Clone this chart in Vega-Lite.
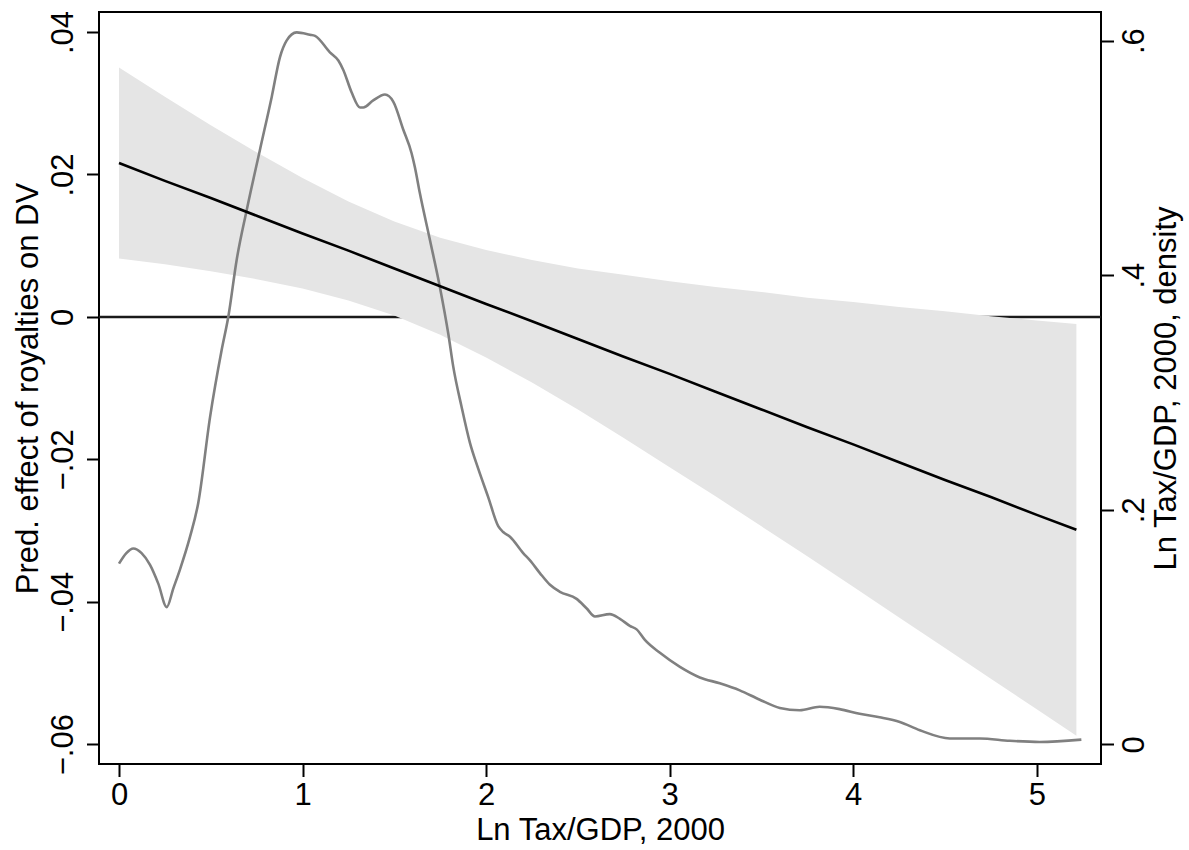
{
  "$schema": "https://vega.github.io/schema/vega-lite/v6.json",
  "width": 1002,
  "height": 752,
  "autosize": "none",
  "padding": {"left": 99, "top": 12, "right": 88, "bottom": 86},
  "background": "white",
  "config": {
    "font": "Liberation Sans",
    "view": {"stroke": "#000000", "strokeWidth": 2},
    "axis": {
      "domain": false, "grid": false,
      "tickColor": "#000000", "tickWidth": 2, "tickSize": 12.5,
      "labelColor": "#000000", "titleColor": "#000000",
      "labelFontSize": 31, "titleFontSize": 31, "titleFontWeight": "normal",
      "labelFont": "Liberation Sans", "titleFont": "Liberation Sans"
    }
  },
  "datasets": {
    "band": [
      {"x": 0, "est": 0.0216, "lo": 0.0082, "hi": 0.0350},
      {"x": 0.25, "est": 0.0191, "lo": 0.0074, "hi": 0.0309},
      {"x": 0.5, "est": 0.0167, "lo": 0.0064, "hi": 0.0269},
      {"x": 0.75, "est": 0.0142, "lo": 0.0053, "hi": 0.0231},
      {"x": 1.0, "est": 0.0117, "lo": 0.0040, "hi": 0.0195},
      {"x": 1.25, "est": 0.0093, "lo": 0.0023, "hi": 0.0162},
      {"x": 1.5, "est": 0.0068, "lo": 0.0002, "hi": 0.0134},
      {"x": 1.75, "est": 0.0043, "lo": -0.0025, "hi": 0.0111},
      {"x": 2.0, "est": 0.0018, "lo": -0.0057, "hi": 0.0094},
      {"x": 2.25, "est": -0.0006, "lo": -0.0092, "hi": 0.0080},
      {"x": 2.5, "est": -0.0031, "lo": -0.0130, "hi": 0.0068},
      {"x": 2.75, "est": -0.0056, "lo": -0.0170, "hi": 0.0059},
      {"x": 3.0, "est": -0.0080, "lo": -0.0211, "hi": 0.0050},
      {"x": 3.25, "est": -0.0105, "lo": -0.0252, "hi": 0.0042},
      {"x": 3.5, "est": -0.0130, "lo": -0.0294, "hi": 0.0035},
      {"x": 3.75, "est": -0.0155, "lo": -0.0336, "hi": 0.0027},
      {"x": 4.0, "est": -0.0179, "lo": -0.0379, "hi": 0.0021},
      {"x": 4.25, "est": -0.0204, "lo": -0.0422, "hi": 0.0014},
      {"x": 4.5, "est": -0.0229, "lo": -0.0465, "hi": 0.0008},
      {"x": 4.75, "est": -0.0253, "lo": -0.0508, "hi": 0.0001},
      {"x": 5.0, "est": -0.0278, "lo": -0.0551, "hi": -0.0005},
      {"x": 5.216, "est": -0.0299, "lo": -0.0588, "hi": -0.0010}
    ],
    "density": [
      {"x": 0, "d": 0.154}, {"x": 0.04, "d": 0.163}, {"x": 0.078, "d": 0.167}, {"x": 0.123, "d": 0.163},
      {"x": 0.169, "d": 0.153}, {"x": 0.214, "d": 0.137}, {"x": 0.26, "d": 0.117}, {"x": 0.296, "d": 0.133},
      {"x": 0.332, "d": 0.149}, {"x": 0.387, "d": 0.177}, {"x": 0.432, "d": 0.206}, {"x": 0.496, "d": 0.279},
      {"x": 0.559, "d": 0.336}, {"x": 0.596, "d": 0.365}, {"x": 0.641, "d": 0.413}, {"x": 0.695, "d": 0.455},
      {"x": 0.768, "d": 0.507}, {"x": 0.832, "d": 0.552}, {"x": 0.877, "d": 0.586}, {"x": 0.913, "d": 0.600},
      {"x": 0.968, "d": 0.607}, {"x": 1.04, "d": 0.605}, {"x": 1.068, "d": 0.604}, {"x": 1.149, "d": 0.590},
      {"x": 1.195, "d": 0.583}, {"x": 1.222, "d": 0.575}, {"x": 1.267, "d": 0.556}, {"x": 1.313, "d": 0.543},
      {"x": 1.331, "d": 0.543}, {"x": 1.385, "d": 0.549}, {"x": 1.449, "d": 0.554}, {"x": 1.494, "d": 0.548},
      {"x": 1.549, "d": 0.524}, {"x": 1.594, "d": 0.504}, {"x": 1.612, "d": 0.492}, {"x": 1.639, "d": 0.470},
      {"x": 1.694, "d": 0.430}, {"x": 1.748, "d": 0.390}, {"x": 1.794, "d": 0.350}, {"x": 1.821, "d": 0.322},
      {"x": 1.866, "d": 0.288}, {"x": 1.912, "d": 0.257}, {"x": 1.957, "d": 0.235}, {"x": 2.011, "d": 0.211},
      {"x": 2.066, "d": 0.186}, {"x": 2.093, "d": 0.181}, {"x": 2.13, "d": 0.177}, {"x": 2.202, "d": 0.163},
      {"x": 2.238, "d": 0.157}, {"x": 2.293, "d": 0.146}, {"x": 2.348, "d": 0.136}, {"x": 2.402, "d": 0.130},
      {"x": 2.493, "d": 0.124}, {"x": 2.547, "d": 0.116}, {"x": 2.593, "d": 0.109}, {"x": 2.674, "d": 0.111},
      {"x": 2.729, "d": 0.107}, {"x": 2.783, "d": 0.101}, {"x": 2.82, "d": 0.098}, {"x": 2.865, "d": 0.089},
      {"x": 2.947, "d": 0.078}, {"x": 3.056, "d": 0.066}, {"x": 3.164, "d": 0.057}, {"x": 3.273, "d": 0.052},
      {"x": 3.382, "d": 0.046}, {"x": 3.491, "d": 0.038}, {"x": 3.6, "d": 0.031}, {"x": 3.709, "d": 0.029},
      {"x": 3.817, "d": 0.032}, {"x": 3.926, "d": 0.030}, {"x": 4.035, "d": 0.026}, {"x": 4.144, "d": 0.023},
      {"x": 4.254, "d": 0.019}, {"x": 4.363, "d": 0.012}, {"x": 4.526, "d": 0.005}, {"x": 4.69, "d": 0.005},
      {"x": 4.853, "d": 0.003}, {"x": 5.016, "d": 0.002}, {"x": 5.243, "d": 0.004}
    ]
  },
  "layer": [
    {
      "data": {"values": [{"ref": 0}]},
      "mark": {"type": "rule", "color": "#1a1a1a", "strokeWidth": 2.5},
      "encoding": {
        "y": {
          "field": "ref", "type": "quantitative",
          "scale": {"domain": [-0.06278, 0.04281], "nice": false, "zero": false},
          "axis": {
            "orient": "left",
            "values": [-0.06, -0.04, -0.02, 0, 0.02, 0.04],
            "labelExpr": "datum.value == 0 ? '0' : replace(format(datum.value, '.2f'), '0.', '.')",
            "labelAngle": -90, "labelAlign": "center", "labelBaseline": "alphabetic", "labelPadding": 14.5,
            "title": "Pred. effect of royalties on DV",
            "titleAngle": -90, "titleAlign": "center", "titleBaseline": "alphabetic",
            "titleX": -62, "titleY": 376
          }
        }
      }
    },
    {
      "data": {"name": "band"},
      "mark": {"type": "area", "color": "#e5e5e5", "opacity": 1},
      "encoding": {
        "x": {
          "field": "x", "type": "quantitative",
          "scale": {"domain": [-0.109, 5.35], "nice": false, "zero": false},
          "axis": {
            "values": [0, 1, 2, 3, 4, 5], "format": "d",
            "labelPadding": 4,
            "title": "Ln Tax/GDP, 2000",
            "titleBaseline": "alphabetic", "titleY": 75
          }
        },
        "y": {"field": "lo", "type": "quantitative", "scale": {"domain": [-0.06278, 0.04281], "nice": false, "zero": false}, "axis": null},
        "y2": {"field": "hi"}
      }
    },
    {
      "data": {"name": "density"},
      "mark": {"type": "line", "color": "#808080", "strokeWidth": 2.6, "interpolate": "monotone"},
      "encoding": {
        "x": {
          "field": "x", "type": "quantitative",
          "scale": {"domain": [-0.109, 5.35], "nice": false, "zero": false},
          "axis": {
            "values": [0, 1, 2, 3, 4, 5], "format": "d",
            "labelPadding": 4,
            "title": "Ln Tax/GDP, 2000",
            "titleBaseline": "alphabetic", "titleY": 75
          }
        },
        "y": {
          "field": "d", "type": "quantitative",
          "scale": {"domain": [-0.0168, 0.6244], "nice": false, "zero": false},
          "axis": {
            "orient": "right",
            "values": [0, 0.2, 0.4, 0.6],
            "labelExpr": "datum.value == 0 ? '0' : replace(format(datum.value, '.1f'), '0.', '.')",
            "labelAngle": -90, "labelAlign": "center", "labelBaseline": "alphabetic", "labelPadding": 29.5,
            "title": "Ln Tax/GDP, 2000, density",
            "titleAngle": -90, "titleAlign": "center", "titleBaseline": "alphabetic",
            "titleX": 74, "titleY": 376
          }
        }
      }
    },
    {
      "data": {"name": "band"},
      "mark": {"type": "line", "color": "#000000", "strokeWidth": 2.6},
      "encoding": {
        "x": {
          "field": "x", "type": "quantitative",
          "scale": {"domain": [-0.109, 5.35], "nice": false, "zero": false},
          "axis": {
            "values": [0, 1, 2, 3, 4, 5], "format": "d",
            "labelPadding": 4,
            "title": "Ln Tax/GDP, 2000",
            "titleBaseline": "alphabetic", "titleY": 75
          }
        },
        "y": {"field": "est", "type": "quantitative", "scale": {"domain": [-0.06278, 0.04281], "nice": false, "zero": false}, "axis": null}
      }
    }
  ],
  "resolve": {"scale": {"y": "independent"}}
}
